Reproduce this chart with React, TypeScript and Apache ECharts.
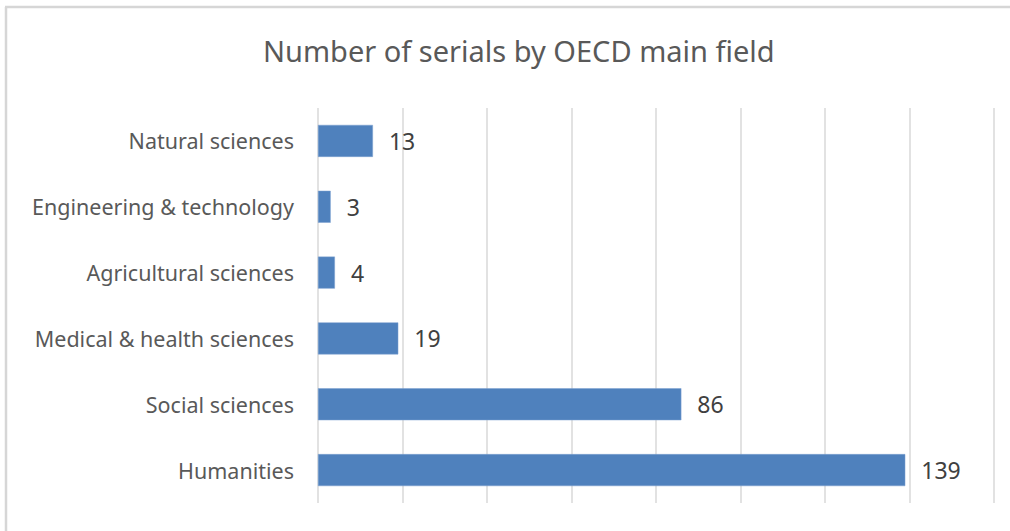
import React, { useEffect, useRef } from "react";
import * as echarts from "echarts";

const categories = [
  "Humanities",
  "Social sciences",
  "Medical & health sciences",
  "Agricultural sciences",
  "Engineering & technology",
  "Natural sciences",
];
const values = [139, 86, 19, 4, 3, 13];
const titleText = "Number of serials by OECD main field";
const FONT = "'Noto Sans', 'Open Sans', sans-serif";

export default function App() {
  const ref = useRef<HTMLDivElement>(null);
  useEffect(() => {
    if (!ref.current) return;
    const chart = echarts.init(ref.current, undefined, { renderer: "svg" });
    const bc = "#d6d6d6";
    const bw = 2.5;
    chart.setOption({
      animation: false,
      backgroundColor: "#ffffff",
      graphic: [
        { type: "line", z: 100, silent: true, shape: { x1: 5, y1: 7, x2: 1010, y2: 7 }, style: { stroke: bc, lineWidth: bw } },
        { type: "line", z: 100, silent: true, shape: { x1: 6, y1: 7, x2: 6, y2: 531 }, style: { stroke: bc, lineWidth: bw } },
      ],
      title: {
        text: titleText,
        left: 258,
        top: 31,
        textStyle: { fontFamily: FONT, fontSize: 29, fontWeight: "normal", color: "#595959" },
      },
      grid: { left: 318, right: 16, top: 108, bottom: 28, containLabel: false },
      xAxis: {
        type: "value",
        min: 0,
        max: 160,
        interval: 20,
        axisLabel: { show: false },
        axisLine: { show: false },
        axisTick: { show: false },
        splitLine: { show: true, lineStyle: { color: "#d9d9d9", width: 1.5 } },
      },
      yAxis: {
        type: "category",
        data: categories,
        axisLine: { show: false },
        axisTick: { show: false },
        axisLabel: { fontFamily: FONT, fontSize: 21.5, color: "#595959", margin: 24 },
      },
      series: [
        {
          type: "bar",
          data: values,
          barWidth: 32,
          itemStyle: { color: "#4f81bd", borderColor: "#7da1d1", borderWidth: 0.5 },
          label: {
            show: true,
            position: "right",
            distance: 16,
            fontFamily: FONT,
            fontSize: 23,
            color: "#404040",
          },
        },
      ],
    });
    return () => chart.dispose();
  }, []);
  return (
    <div style={{ position: "absolute", left: 0, top: 0 }}>
      <div ref={ref} style={{ width: 1010, height: 531 }} />
    </div>
  );
}
